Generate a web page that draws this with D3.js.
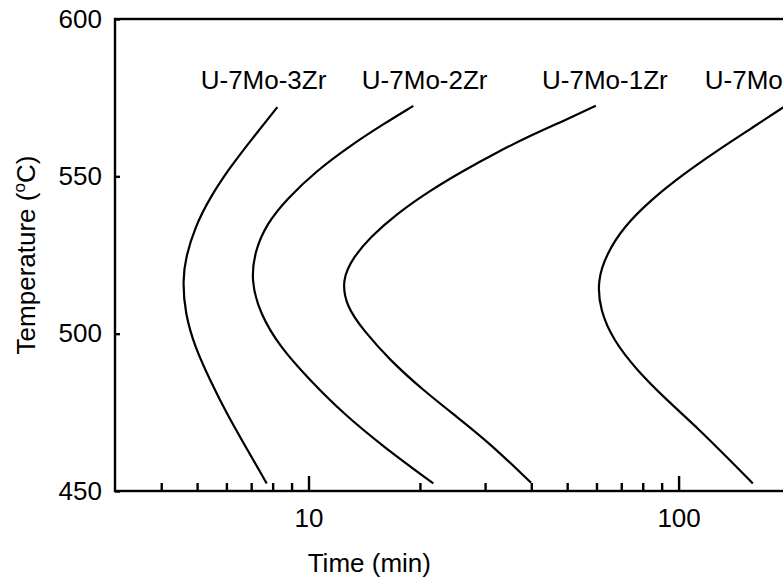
<!DOCTYPE html>
<html>
<head>
<meta charset="utf-8">
<script src="https://cdn.jsdelivr.net/npm/d3@7"></script>
<style>
  body { margin: 0; background: #fff; }
  svg { display: block; font-family: "Liberation Sans", Arial, sans-serif; }
  .axis text { font-size: 26px; fill: #000; }
  .axis line { stroke: #000; stroke-width: 2.4px; }
</style>
</head>
<body>
<div id="chart"></div>
<script>
// curve names and the time at which each name sits (min)
var alloys = ['U-7Mo-3Zr', 'U-7Mo-2Zr', 'U-7Mo-1Zr', 'U-7Mo'];
var labelTimes = [7.56, 20.6, 63.2, 150];
var labelTemp = 577.8;

// [time (min), temperature (C)], top to bottom
var zr3 = [[8.24,572],[7.09,562.4],[6.13,552.8],[5.42,543.3],[4.93,533.8],[4.66,524.3],[4.57,517],
    [4.64,506.4],[4.93,495.8],[5.42,485.2],[6.01,474.6],[6.76,464.1],[7.71,452.4]];
var zr2 = [[19.2,572.4],[15.93,566.6],[12.95,559.7],[10.52,551.8],[8.73,542.8],[7.71,534.9],[7.17,526.4],
    [6.99,517],[7.39,506.4],[8.37,495.8],[10.09,485.2],[12.42,474.6],[15.93,464.1],[21.74,452.4]];
var zr1 = [[59.74,572.4],[48.83,567.6],[39.68,562.9],[32.26,557.6],[26.2,551.8],[21.3,545.5],[17.31,538.1],
    [14.66,530.6],[13.22,524.3],[12.29,517],[12.69,508.4],[14.07,501.1],[16.61,491.5],[20.43,482],
    [25.15,473.6],[30.94,465.1],[39.94,452.6]];
var zr0 = [[195,572.5],[156.1,565],[126.9,558.1],[103,550.7],[83.75,542.3],[70.93,533.8],[63.95,525.4],
    [60.33,517],[61.36,507.4],[66.64,497.9],[77.09,488.4],[92.92,478.9],[114.3,469.3],[137.5,459.8],
    [158.7,452.4]];

var majorTicks = [10, 100];
var minorTicks = [4, 5, 6, 7, 8, 9, 20, 30, 40, 50, 60, 70, 80, 90];
var tempTicks = [450, 500, 550, 600];

var width = 783;
var height = 584;
var margin = { top: 19, left: 115 };
var plotW = 675;
var plotH = 472;

var svg = d3.select('#chart')
    .append('svg')
    .attr('width', width)
    .attr('height', height);

var g = svg.append('g')
    .attr('transform', 'translate(' + margin.left + ',' + margin.top + ')');

var x = d3.scaleLog()
    .domain([3, 200])
    .range([0, plotW]);

var y = d3.scaleLinear()
    .domain([450, 600])
    .range([plotH, 0]);

// minor ticks, pointing inward
g.append('g')
    .attr('class', 'axis')
    .attr('transform', 'translate(0,' + plotH + ')')
    .call(d3.axisBottom(x).tickValues(minorTicks).tickSize(-8).tickFormat(''))
    .call(function(s) { s.select('.domain').remove(); });

g.append('g')
    .attr('class', 'axis')
    .attr('transform', 'translate(0,' + plotH + ')')
    .call(d3.axisBottom(x).tickValues(majorTicks).tickSize(-15).tickPadding(17.5)
        .tickFormat(d3.format('d')))
    .call(function(s) { s.select('.domain').remove(); });

g.append('g')
    .attr('class', 'axis')
    .call(d3.axisLeft(y).tickValues(tempTicks).tickSize(-5).tickPadding(13))
    .call(function(s) { s.select('.domain').remove(); });

// frame
g.append('rect')
    .attr('x', 0)
    .attr('y', 0)
    .attr('width', plotW)
    .attr('height', plotH)
    .attr('fill', 'none')
    .attr('stroke', '#000')
    .attr('stroke-width', 2.4);

var line = d3.line()
    .x(function(d) { return x(d[0]); })
    .y(function(d) { return y(d[1]); })
    .curve(d3.curveBasis);

g.selectAll('.curve')
    .data([zr3, zr2, zr1, zr0])
    .enter()
    .append('path')
    .attr('class', 'curve')
    .attr('d', line)
    .attr('fill', 'none')
    .attr('stroke', '#000')
    .attr('stroke-width', 2.2);

g.selectAll('.lab')
    .data(alloys)
    .enter()
    .append('text')
    .attr('class', 'lab')
    .attr('x', function(d, i) { return x(labelTimes[i]); })
    .attr('y', y(labelTemp))
    .attr('text-anchor', 'middle')
    .style('font-size', '26px')
    .text(function(d) { return d; });

// axis titles
svg.append('text')
    .attr('x', margin.left + x(14.6))
    .attr('y', 572)
    .attr('text-anchor', 'middle')
    .style('font-size', '26px')
    .text('Time (min)');

var yl = svg.append('text')
    .attr('transform', 'translate(34.5,' + (margin.top + plotH / 2) + ') rotate(-90)')
    .attr('text-anchor', 'middle')
    .style('font-size', '26px');
yl.append('tspan').text('Temperature (');
yl.append('tspan').attr('dy', -10).style('font-size', '17px').text('o');
yl.append('tspan').attr('dy', 10).text('C)');
</script>
</body>
</html>
